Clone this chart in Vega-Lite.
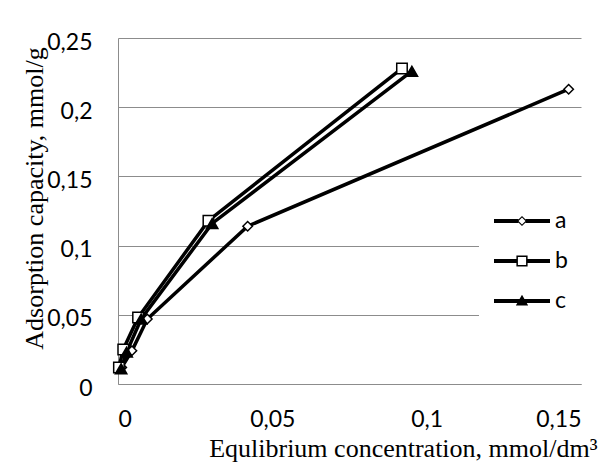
{
  "$schema": "https://vega.github.io/schema/vega-lite/v6.json",
  "width": 463,
  "height": 346,
  "autosize": {"type": "none"},
  "padding": {"left": 118, "top": 38, "right": 25, "bottom": 91},
  "background": "white",
  "config": {
    "view": {"stroke": null},
    "axis": {"domainColor": "#8c8c8c", "gridColor": "#8c8c8c", "ticks": false, "labelFont": "Lato", "labelFontSize": 23, "labelColor": "black", "titleColor": "black", "titleFont": "Liberation Serif", "titleFontWeight": "normal", "titleFontSize": 26}
  },
  "data": {
    "values": [
      {"series": "a", "x": 0.0012, "y": 0.012},
      {"series": "a", "x": 0.0045, "y": 0.024},
      {"series": "a", "x": 0.0095, "y": 0.047},
      {"series": "a", "x": 0.042, "y": 0.114},
      {"series": "a", "x": 0.146, "y": 0.213},
      {"series": "b", "x": 0.0003, "y": 0.012},
      {"series": "b", "x": 0.0017, "y": 0.025},
      {"series": "b", "x": 0.0065, "y": 0.048},
      {"series": "b", "x": 0.0293, "y": 0.118},
      {"series": "b", "x": 0.092, "y": 0.228},
      {"series": "c", "x": 0.001, "y": 0.011},
      {"series": "c", "x": 0.0028, "y": 0.023},
      {"series": "c", "x": 0.0075, "y": 0.047},
      {"series": "c", "x": 0.0305, "y": 0.116},
      {"series": "c", "x": 0.0952, "y": 0.226}
    ]
  },
  "encoding": {
    "x": {
      "field": "x", "type": "quantitative",
      "scale": {"domain": [0, 0.15], "nice": false},
      "axis": {"values": [0, 0.05, 0.1, 0.15], "grid": false, "labelPadding": 24,
        "labelExpr": "replace(format(datum.value, '~g'), '.', ',')",
        "title": "Equlibrium concentration, mmol/dm³",
        "titleAlign": "right", "titleX": 479, "titleY": 72, "titleBaseline": "alphabetic"}
    },
    "y": {
      "field": "y", "type": "quantitative",
      "scale": {"domain": [0, 0.25], "nice": false},
      "axis": {"values": [0, 0.05, 0.1, 0.15, 0.2, 0.25], "grid": true, "labelPadding": 26, "labelOffset": 4,
        "labelExpr": "replace(format(datum.value, '~g'), '.', ',')",
        "title": "Adsorption capacity, mmol/g",
        "titleAngle": -90, "titleAlign": "center", "titleX": -76, "titleY": 160, "titleBaseline": "alphabetic"}
    }
  },
  "layer": [
    {
      "mark": {"type": "line", "color": "black", "strokeWidth": 3.5},
      "encoding": {"detail": {"field": "series", "type": "nominal"}}
    },
    {
      "mark": {"type": "point", "filled": true, "stroke": "black", "strokeWidth": 1.5, "opacity": 1},
      "encoding": {
        "shape": {"field": "series", "type": "nominal", "scale": {"domain": ["a", "b", "c"], "range": ["diamond", "square", "triangle-up"]}, "legend": null},
        "fill": {"field": "series", "type": "nominal", "scale": {"domain": ["a", "b", "c"], "range": ["white", "white", "black"]}, "legend": null},
        "size": {"field": "series", "type": "nominal", "scale": {"domain": ["a", "b", "c"], "range": [90, 130, 170]}, "legend": null}
      }
    },
    {
      "transform": [{"filter": "false"}],
      "mark": {"type": "point", "filled": true, "color": "black", "strokeWidth": 0},
      "encoding": {
        "shape": {
          "field": "series", "type": "nominal",
          "scale": {"domain": ["a", "b", "c"], "range": [
            "M-1,-0.07H-0.13V0.07H-1Z M0.13,-0.07H1V0.07H0.13Z M0,-0.18L0.18,0L0,0.18L-0.18,0Z M0,-0.125L-0.125,0L0,0.125L0.125,0Z",
            "M-1,-0.07H-0.2V0.07H-1Z M0.2,-0.07H1V0.07H0.2Z M-0.2,-0.2H0.2V0.2H-0.2Z M-0.146,-0.146V0.146H0.146V-0.146Z",
            "M-1,-0.07H1V0.07H-1Z M0,-0.22L0.22,0.16L-0.22,0.16Z"
          ]},
          "legend": {
            "title": null, "orient": "none", "legendX": 361, "legendY": 140, "padding": 15,
            "fillColor": "white", "symbolSize": 3136, "symbolStrokeWidth": 0, "symbolFillColor": "black",
            "symbolOpacity": 1, "labelFont": "Lato", "labelFontSize": 23, "labelColor": "black", "labelOffset": 5, "rowPadding": 0
          }
        }
      }
    }
  ],
  "resolve": {"scale": {"shape": "independent", "fill": "independent", "size": "independent"}}
}
